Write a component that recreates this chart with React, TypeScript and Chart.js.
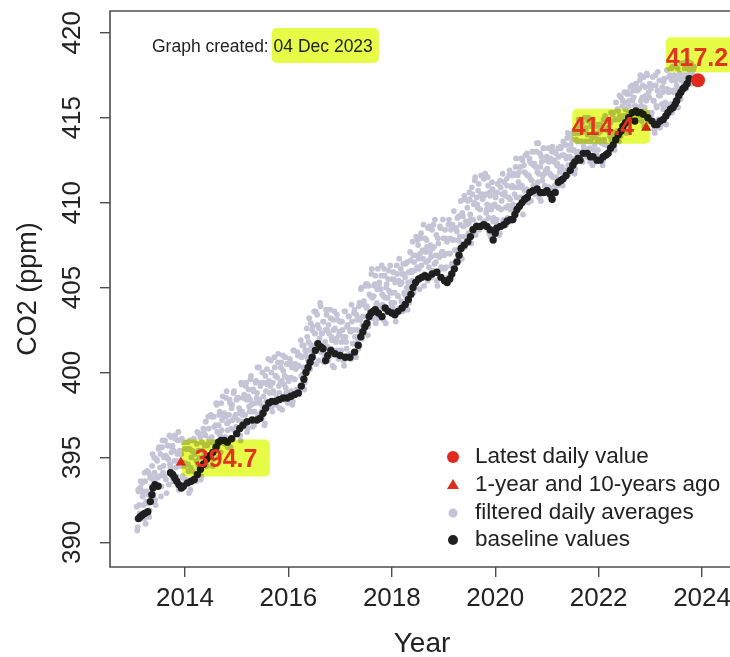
import { useEffect, useRef } from "react";
import { Chart, registerables } from "chart.js";

Chart.register(...registerables);

const FONT = '"Liberation Sans", Arial, Helvetica, sans-serif';

const X_TICKS = [2014, 2016, 2018, 2020, 2022, 2024];
const Y_TICKS = [390, 395, 400, 405, 410, 415, 420];
const X_MIN = 2012.55;
const X_MAX = 2024.54;
const Y_MIN = 388.55;
const Y_MAX = 421.28;

const X_TITLE = "Year";
const Y_TITLE = "CO2 (ppm)";
const CREATED_PREFIX = "Graph created: ";
const CREATED_DATE = "04 Dec 2023";
const LEGEND_LABELS = [
  "Latest daily value",
  "1-year and 10-years ago",
  "filtered daily averages",
  "baseline values",
];

// filtered daily averages: two readings per week (start and middle of each week)
const GREY_2013 = [392.1, 390.9, 393.0, 391.7, 393.6, 391.4, 392.7, 392.2, 394.1, 391.1, 393.0, 392.3, 394.1, 391.9, 393.9, 393.3, 395.2, 392.8, 394.1, 392.2, 394.9, 393.8, 395.5, 393.9, 395.2, 393.3, 396.0, 394.5, 393.9, 395.1, 392.9, 395.7, 394.9, 396.3, 394.4, 395.3, 395.7, 393.6, 394.8, 396.1, 393.9, 395.2, 396.5, 394.5, 393.4, 395.2, 393.9, 395.9, 394.5];
const GREY_2014 = [393.6, 394.6, 395.9, 394.2, 395.5, 393.1, 395.0, 394.2, 396.0, 395.3, 393.8, 394.8, 396.5, 395.4, 394.4, 396.2, 393.9, 395.4, 396.7, 395.1, 396.3, 394.5, 395.7, 397.4, 396.1, 395.1, 395.9, 397.4, 394.9, 396.8, 395.8, 398.2, 396.5, 395.0, 397.5, 396.3, 398.2, 397.2, 395.9, 397.6, 396.2, 398.5, 397.0, 395.6, 397.5, 398.2, 396.7, 398.1, 396.1, 398.9, 397.4, 396.8];
const GREY_2015 = [398.5, 397.2, 397.9, 396.3, 399.4, 397.7, 397.1, 398.7, 397.5, 399.4, 396.5, 398.6, 398.0, 398.4, 399.8, 397.7, 399.0, 396.9, 398.2, 399.5, 398.8, 397.5, 400.3, 398.2, 399.4, 397.3, 398.0, 399.4, 397.0, 398.9, 400.2, 398.1, 399.5, 398.8, 400.7, 398.0, 399.4, 398.8, 400.3, 399.8, 398.5, 400.6, 399.2, 397.9, 400.3, 399.5, 401.0, 398.4, 399.8, 399.1, 400.5, 398.2];
const GREY_2016 = [399.5, 400.8, 398.9, 400.3, 398.3, 401.3, 399.6, 400.2, 399.0, 401.0, 400.4, 398.9, 401.9, 400.9, 399.9, 401.6, 399.4, 401.0, 402.6, 400.8, 401.8, 400.4, 402.9, 401.6, 402.7, 401.5, 402.3, 403.6, 401.4, 402.8, 400.7, 402.0, 403.9, 402.3, 401.5, 403.0, 400.9, 402.5, 403.4, 401.5, 402.8, 401.0, 403.2, 402.1, 400.4, 402.5, 403.6, 401.3, 402.0, 403.1, 400.8, 402.4];
const GREY_2017 = [403.0, 401.8, 402.5, 400.7, 403.6, 402.1, 401.4, 402.8, 403.3, 401.1, 402.4, 404.0, 401.7, 402.5, 403.7, 401.7, 403.4, 402.5, 401.4, 404.1, 403.2, 405.0, 402.8, 404.0, 402.6, 405.1, 403.8, 405.2, 402.7, 404.6, 403.5, 405.8, 404.4, 403.4, 405.1, 405.7, 404.0, 404.9, 403.2, 405.3, 403.9, 405.7, 404.6, 403.1, 406.1, 404.4, 405.0, 403.7, 405.5, 404.8, 406.3, 404.1];
const GREY_2018 = [404.7, 405.9, 404.1, 405.3, 403.5, 405.8, 404.5, 406.7, 405.2, 404.2, 405.8, 406.4, 404.7, 405.6, 404.5, 406.5, 405.3, 404.1, 407.1, 406.0, 405.4, 406.9, 406.5, 405.0, 408.0, 406.2, 407.5, 406.1, 407.0, 408.2, 405.7, 406.7, 405.1, 407.9, 406.5, 407.4, 408.5, 406.2, 407.1, 406.8, 408.4, 406.0, 407.4, 409.0, 406.5, 405.4, 407.9, 406.9, 408.6, 406.1, 407.1, 409.0];
const GREY_2019 = [406.9, 408.4, 406.2, 407.7, 405.6, 409.0, 407.0, 408.4, 406.4, 407.8, 409.5, 407.2, 408.5, 408.3, 407.0, 409.2, 408.0, 410.1, 406.7, 409.2, 408.0, 410.2, 408.9, 407.8, 410.1, 408.8, 410.2, 409.0, 410.9, 408.5, 409.9, 411.3, 408.1, 410.3, 409.7, 411.1, 409.1, 410.4, 408.7, 410.2, 411.4, 408.9, 410.5, 409.6, 411.5, 409.1, 410.6, 408.0, 409.8, 410.8, 409.1, 409.9];
const GREY_2020 = [410.3, 409.0, 411.1, 409.7, 408.2, 410.9, 410.1, 411.7, 409.0, 410.6, 409.7, 411.4, 409.1, 410.3, 411.9, 409.6, 410.9, 411.6, 409.0, 410.5, 412.1, 410.3, 411.6, 411.2, 409.7, 412.1, 410.9, 412.5, 410.3, 411.8, 412.8, 410.8, 411.6, 410.0, 412.6, 411.4, 412.3, 413.0, 411.0, 412.3, 410.9, 413.0, 411.8, 413.5, 410.3, 412.1, 412.7, 411.3, 413.2, 411.7, 410.6, 412.5];
const GREY_2021 = [412.0, 413.2, 410.9, 412.6, 411.6, 413.3, 410.7, 412.5, 413.0, 411.5, 412.3, 413.2, 412.1, 413.3, 412.0, 412.8, 413.6, 411.4, 413.4, 412.6, 413.8, 412.2, 413.1, 414.0, 412.6, 413.7, 413.1, 414.1, 412.0, 413.7, 414.5, 413.0, 414.1, 412.5, 413.6, 414.7, 413.0, 414.2, 413.6, 414.4, 413.1, 414.8, 413.6, 412.4, 414.5, 413.8, 414.9, 413.1, 413.9, 412.4, 414.5, 413.1];
const GREY_2022 = [413.7, 414.6, 412.7, 414.3, 412.5, 413.7, 415.1, 413.4, 414.4, 413.0, 414.9, 413.9, 415.3, 414.1, 415.3, 413.3, 414.9, 415.9, 414.2, 415.4, 413.6, 415.1, 416.2, 414.5, 416.0, 415.1, 415.9, 414.9, 416.4, 414.5, 415.7, 416.4, 415.3, 416.9, 414.9, 416.2, 415.7, 417.0, 415.3, 416.7, 415.6, 417.2, 416.0, 414.8, 416.9, 417.4, 415.6, 416.3, 417.6, 414.8, 416.5, 417.0];
const GREY_2023 = [416.7, 415.3, 417.4, 416.0, 414.1, 416.9, 415.6, 417.7, 416.3, 414.4, 417.2, 415.8, 416.5, 417.1, 415.6, 416.6, 417.8, 415.2, 416.5, 417.5, 415.8, 417.2, 418.0, 416.5, 415.6, 417.2, 416.9, 417.9, 416.4, 417.6, 416.1, 417.2, 418.2, 416.9, 417.9, 417.4, 418.3, 417.1, 417.9, 417.8, 417.2, 418.1, 417.5, 417.9];

const GREY_MID_2013 = [390.7, 393.1, 392.2, 393.2, 391.5, 393.5, 393.0, 391.4, 393.6, 392.4, 394.2, 392.8, 391.5, 393.8, 392.7, 394.5, 393.7, 395.0, 392.5, 393.8, 394.8, 393.3, 395.6, 394.4, 392.7, 395.6, 394.1, 395.0, 396.0, 393.7, 395.0, 395.7, 393.4, 394.6, 396.2, 395.6, 393.8, 395.4, 396.3, 394.4, 394.8, 396.0, 393.1, 395.4, 394.5, 396.1, 393.8, 394.7, 395.5];
const GREY_MID_2014 = [393.7, 395.5, 394.6, 392.9, 396.0, 394.4, 395.4, 393.7, 396.1, 395.2, 393.6, 395.8, 394.6, 396.4, 395.0, 393.7, 395.9, 394.7, 396.5, 395.7, 397.1, 394.5, 395.8, 396.7, 395.1, 397.5, 396.2, 394.5, 397.4, 395.9, 396.9, 398.1, 395.6, 396.9, 397.7, 395.3, 396.6, 398.6, 397.5, 395.8, 397.4, 398.9, 396.6, 397.1, 398.4, 395.6, 397.9, 397.2, 398.8, 396.6, 397.5, 398.4];
const GREY_MID_2015 = [396.7, 398.5, 397.6, 396.0, 399.3, 397.5, 398.5, 396.8, 399.2, 398.4, 396.7, 399.0, 397.7, 399.6, 398.1, 396.8, 398.9, 397.7, 399.4, 398.5, 400.3, 397.2, 398.4, 399.2, 397.7, 400.0, 398.6, 396.9, 399.8, 398.3, 399.3, 400.8, 398.0, 399.2, 400.0, 397.7, 398.9, 400.9, 399.8, 398.1, 399.7, 401.1, 398.8, 399.4, 400.6, 397.8, 400.1, 399.3, 400.9, 398.8, 399.7, 400.5];
const GREY_MID_2016 = [398.8, 400.6, 399.7, 398.1, 401.3, 399.6, 400.5, 398.9, 401.2, 400.4, 398.7, 401.0, 399.8, 401.6, 400.3, 399.0, 401.3, 400.2, 402.1, 401.3, 403.2, 400.2, 401.6, 402.5, 401.1, 403.6, 402.3, 400.5, 403.4, 401.7, 402.6, 404.1, 401.2, 402.3, 403.0, 400.6, 401.8, 403.7, 402.5, 400.7, 402.3, 403.7, 401.4, 401.9, 403.1, 400.3, 402.6, 401.8, 403.4, 401.3, 402.2, 403.0];
const GREY_MID_2017 = [401.3, 403.0, 402.1, 400.4, 403.6, 401.8, 402.7, 401.0, 403.3, 402.5, 400.8, 403.0, 401.7, 403.5, 402.1, 400.9, 403.1, 402.0, 403.9, 403.1, 404.9, 402.0, 403.3, 404.2, 402.7, 405.2, 403.9, 402.2, 405.1, 403.6, 404.5, 406.1, 403.2, 404.5, 405.2, 402.9, 404.1, 406.1, 405.1, 403.3, 404.9, 406.3, 404.0, 404.5, 405.7, 402.9, 405.2, 404.4, 406.0, 403.8, 404.7, 405.5];
const GREY_MID_2018 = [403.8, 405.5, 404.7, 403.0, 406.3, 404.5, 405.4, 403.8, 406.1, 405.3, 403.6, 405.8, 404.6, 406.4, 405.0, 403.7, 405.9, 404.8, 406.6, 405.9, 407.7, 404.7, 406.0, 406.9, 405.4, 407.8, 406.7, 404.9, 407.9, 406.3, 407.2, 408.7, 405.8, 407.1, 407.8, 405.4, 406.6, 408.6, 407.5, 405.6, 407.3, 408.7, 406.4, 406.9, 408.1, 405.1, 407.6, 406.8, 408.5, 406.2, 407.1, 407.9];
const GREY_MID_2019 = [406.1, 407.9, 407.0, 405.4, 408.7, 407.0, 407.9, 406.3, 408.7, 407.8, 406.2, 408.5, 407.2, 409.1, 407.8, 406.6, 408.7, 407.6, 409.4, 408.6, 410.4, 407.4, 408.7, 409.7, 408.2, 410.6, 409.3, 407.6, 410.5, 409.0, 410.0, 411.5, 408.7, 409.9, 410.7, 408.4, 409.6, 411.6, 410.5, 408.8, 410.4, 411.7, 409.4, 409.9, 411.0, 408.2, 410.4, 409.6, 411.2, 408.9, 409.8, 410.5];
const GREY_MID_2020 = [408.8, 410.6, 409.7, 408.1, 411.3, 409.6, 410.5, 408.9, 411.2, 410.4, 408.7, 411.0, 409.8, 411.6, 410.2, 408.9, 411.0, 409.9, 411.7, 410.9, 412.6, 409.6, 410.9, 411.8, 410.3, 412.6, 411.0, 409.3, 412.2, 410.7, 411.7, 412.9, 410.4, 411.6, 412.4, 410.1, 411.3, 413.0, 412.2, 410.5, 412.1, 413.5, 411.2, 411.7, 412.9, 410.1, 412.4, 411.6, 413.2, 411.0, 411.9, 412.7];
const GREY_MID_2021 = [410.9, 412.4, 411.7, 410.3, 413.0, 411.5, 412.4, 411.0, 412.9, 412.2, 411.0, 412.7, 411.8, 413.2, 412.1, 411.0, 412.8, 411.9, 413.4, 412.7, 414.1, 411.7, 412.7, 413.4, 412.3, 414.1, 413.1, 411.7, 414.1, 412.9, 413.6, 414.9, 412.6, 413.6, 414.2, 412.4, 413.3, 415.0, 414.2, 412.7, 414.0, 415.0, 413.2, 413.6, 414.6, 412.2, 414.1, 413.4, 414.6, 412.8, 413.6, 414.1];
const GREY_MID_2022 = [412.7, 414.2, 413.5, 412.2, 414.9, 413.4, 414.3, 412.9, 414.8, 414.2, 412.9, 414.7, 413.7, 415.2, 414.1, 413.1, 414.9, 414.0, 415.5, 414.9, 416.3, 413.9, 415.0, 415.7, 414.6, 416.5, 415.5, 414.1, 416.5, 415.3, 416.0, 416.8, 415.0, 416.0, 416.6, 414.8, 415.7, 416.9, 416.6, 415.1, 416.7, 417.5, 415.7, 416.2, 417.4, 414.5, 416.8, 416.0, 417.5, 415.3, 416.2, 416.9];
const GREY_MID_2023 = [415.2, 416.9, 416.0, 414.3, 417.5, 415.7, 416.6, 414.9, 417.2, 416.3, 414.6, 416.8, 415.5, 417.3, 415.9, 414.6, 416.7, 415.6, 417.4, 416.6, 417.9, 415.3, 416.6, 417.5, 416.0, 418.0, 416.6, 415.6, 417.4, 416.6, 417.2, 418.2, 416.7, 417.5, 418.0, 416.7, 417.5, 418.3, 418.2, 417.5, 418.2, 417.0, 417.8, 418.0];

// [year, first week, week phase, values]
const GREY_SERIES: [number, number, number, number[]][] = [
  [2013, 3, 0.5, GREY_2013], [2013, 3, 1.0, GREY_MID_2013],
  [2014, 0, 0.5, GREY_2014], [2014, 0, 1.0, GREY_MID_2014],
  [2015, 0, 0.5, GREY_2015], [2015, 0, 1.0, GREY_MID_2015],
  [2016, 0, 0.5, GREY_2016], [2016, 0, 1.0, GREY_MID_2016],
  [2017, 0, 0.5, GREY_2017], [2017, 0, 1.0, GREY_MID_2017],
  [2018, 0, 0.5, GREY_2018], [2018, 0, 1.0, GREY_MID_2018],
  [2019, 0, 0.5, GREY_2019], [2019, 0, 1.0, GREY_MID_2019],
  [2020, 0, 0.5, GREY_2020], [2020, 0, 1.0, GREY_MID_2020],
  [2021, 0, 0.5, GREY_2021], [2021, 0, 1.0, GREY_MID_2021],
  [2022, 0, 0.5, GREY_2022], [2022, 0, 1.0, GREY_MID_2022],
  [2023, 0, 0.5, GREY_2023], [2023, 0, 1.0, GREY_MID_2023],
];

// baseline values [decimal year, ppm]
const BASELINE: [number, number][] = [
  [2013.10, 391.4], [2013.13, 391.5], [2013.17, 391.6], [2013.22, 391.7], [2013.28, 391.8], [2013.33, 392.4], [2013.36, 392.8], [2013.38, 393.2], [2013.42, 393.4], [2013.48, 393.3],
  [2013.72, 394.1], [2013.76, 394.0], [2013.80, 393.8], [2013.84, 393.6], [2013.88, 393.4], [2013.93, 393.2], [2013.97, 393.3], [2014.05, 393.5], [2014.12, 393.6], [2014.18, 393.7],
  [2014.24, 394.0], [2014.30, 394.3], [2014.36, 394.6], [2014.42, 394.9], [2014.48, 395.1], [2014.54, 395.3], [2014.60, 395.6], [2014.65, 395.9], [2014.70, 396.0], [2014.76, 396.0],
  [2014.82, 395.9], [2014.90, 396.1], [2015.00, 396.4], [2015.06, 396.7], [2015.12, 396.9], [2015.20, 397.1], [2015.30, 397.2], [2015.39, 397.2], [2015.45, 397.3], [2015.51, 397.6],
  [2015.56, 397.9], [2015.62, 398.2], [2015.68, 398.3], [2015.75, 398.3], [2015.82, 398.4], [2015.90, 398.5], [2015.98, 398.5], [2016.05, 398.6], [2016.12, 398.7], [2016.19, 398.8],
  [2016.25, 399.2], [2016.30, 399.6], [2016.34, 400.0], [2016.38, 400.3], [2016.42, 400.6], [2016.46, 400.9], [2016.52, 401.3], [2016.57, 401.7], [2016.63, 401.5], [2016.67, 401.4],
  [2016.72, 400.7], [2016.76, 401.0], [2016.82, 401.3], [2016.90, 401.1], [2017.00, 401.0], [2017.10, 400.9], [2017.19, 400.9], [2017.28, 401.2], [2017.35, 401.6], [2017.40, 402.1],
  [2017.44, 402.4], [2017.48, 402.7], [2017.52, 402.9], [2017.56, 403.3], [2017.60, 403.5], [2017.64, 403.6], [2017.68, 403.7], [2017.74, 403.5], [2017.81, 403.3], [2017.87, 403.8],
  [2017.93, 403.6], [2018.00, 403.5], [2018.06, 403.4], [2018.12, 403.6], [2018.20, 403.8], [2018.26, 404.0], [2018.32, 404.3], [2018.37, 404.6], [2018.41, 405.0], [2018.46, 405.3],
  [2018.52, 405.5], [2018.58, 405.6], [2018.64, 405.7], [2018.70, 405.6], [2018.78, 405.8], [2018.87, 405.9], [2018.95, 405.6], [2019.02, 405.4], [2019.07, 405.3], [2019.12, 405.5],
  [2019.16, 405.8], [2019.21, 406.1], [2019.26, 406.5], [2019.30, 406.9], [2019.34, 407.3], [2019.40, 407.5], [2019.47, 407.7], [2019.52, 408.0], [2019.57, 408.4], [2019.64, 408.6],
  [2019.71, 408.6], [2019.78, 408.7], [2019.84, 408.6], [2019.90, 408.4], [2019.96, 407.8], [2020.00, 408.2], [2020.03, 408.5], [2020.10, 408.6], [2020.17, 408.7], [2020.23, 408.9],
  [2020.29, 409.0], [2020.34, 409.0], [2020.38, 409.3], [2020.42, 409.6], [2020.47, 409.8], [2020.52, 410.0], [2020.57, 410.2], [2020.62, 410.3], [2020.67, 410.6], [2020.73, 410.7],
  [2020.81, 410.8], [2020.87, 410.6], [2020.94, 410.6], [2021.00, 410.7], [2021.06, 410.5], [2021.10, 410.2], [2021.16, 410.6], [2021.22, 411.2], [2021.27, 411.3], [2021.31, 411.4],
  [2021.37, 411.6], [2021.45, 411.9], [2021.50, 412.2], [2021.54, 412.4], [2021.60, 412.6], [2021.64, 412.5], [2021.70, 412.9], [2021.78, 412.9], [2021.84, 412.7], [2021.89, 412.7],
  [2021.97, 412.5], [2022.03, 412.5], [2022.09, 412.7], [2022.14, 412.8], [2022.18, 412.9], [2022.23, 413.2], [2022.28, 413.4], [2022.33, 413.7], [2022.38, 414.0], [2022.43, 414.2],
  [2022.47, 414.5], [2022.52, 414.7], [2022.58, 415.0], [2022.65, 415.3], [2022.70, 414.8], [2022.72, 415.4], [2022.76, 415.3], [2022.81, 415.3], [2022.86, 415.2], [2022.95, 415.0],
  [2023.03, 414.8], [2023.08, 414.6], [2023.13, 414.6], [2023.19, 414.8], [2023.25, 414.9], [2023.30, 415.1], [2023.34, 415.3], [2023.39, 415.5], [2023.44, 415.6], [2023.48, 415.8],
  [2023.51, 416.0], [2023.55, 416.3], [2023.59, 416.5], [2023.63, 416.7], [2023.67, 416.8], [2023.71, 417.0], [2023.75, 417.3],
];

const LATEST: [number, number][] = [[2023.92, 417.2]];
const AGO: [number, number][] = [[2013.92, 394.7], [2022.92, 414.4]];

const RED = "#e02a1e";
const RED_TEXT = "#e3331f";
const GREY = "#c4c4d6";
const BLACK = "#1f1f1f";
const HIGHLIGHT = "rgb(230,252,70)";
const INK = "#222222";
const FRAME = "#4d4d4d";

const greyPoints = GREY_SERIES.flatMap(([yr, w0, phase, vals]) =>
  vals.map((v, i) => ({ x: yr + ((w0 + i + phase) * 7) / 365.25, y: v }))
);
const toXY = (arr: [number, number][]) => arr.map(([x, y]) => ({ x, y }));

function hl(ctx: CanvasRenderingContext2D, x: number, y: number, w: number, h: number) {
  ctx.beginPath();
  ctx.roundRect(x, y, w, h, 5);
  ctx.fill();
}

const overlay = {
  id: "overlay",
  afterDatasetsDraw(chart: any) {
    const { ctx, chartArea: ca, scales } = chart;
    const xs = scales.x;
    const ys = scales.y;
    const p1x = xs.getPixelForValue(AGO[0][0]);
    const p1y = ys.getPixelForValue(AGO[0][1]);
    const p2x = xs.getPixelForValue(AGO[1][0]);
    const p2y = ys.getPixelForValue(AGO[1][1]);
    const p3x = xs.getPixelForValue(LATEST[0][0]);
    const p3y = ys.getPixelForValue(LATEST[0][1]);

    ctx.save();
    ctx.font = `17.5px ${FONT}`;
    const tx = ca.left + 42;
    const ty = ca.top + 36;
    const wPre = ctx.measureText(CREATED_PREFIX).width;
    const wDate = ctx.measureText(CREATED_DATE).width;

    ctx.globalCompositeOperation = "multiply";
    ctx.fillStyle = HIGHLIGHT;
    hl(ctx, tx + wPre - 2, ty - 19, wDate + 8, 35);
    hl(ctx, p1x + 1, p1y - 23, 88, 37);
    hl(ctx, p2x - 74, p2y - 19, 78, 35);
    hl(ctx, p3x - 32, p3y - 43, 80, 35);
    ctx.globalCompositeOperation = "source-over";

    ctx.fillStyle = INK;
    ctx.textBaseline = "middle";
    ctx.textAlign = "left";
    ctx.fillText(CREATED_PREFIX, tx, ty);
    ctx.fillText(CREATED_DATE, tx + wPre, ty);

    ctx.fillStyle = RED_TEXT;
    ctx.font = `bold 25px ${FONT}`;
    ctx.textAlign = "left";
    ctx.fillText(AGO[0][1].toFixed(1), p1x + 14, p1y - 2);
    ctx.textAlign = "right";
    ctx.fillText(AGO[1][1].toFixed(1), p2x - 12, p2y);
    ctx.textAlign = "center";
    ctx.fillText(LATEST[0][1].toFixed(1), p3x - 1, p3y - 21);
    ctx.restore();
  },
  afterDraw(chart: any) {
    const { ctx, chartArea: ca, scales } = chart;
    const xs = scales.x;
    const ys = scales.y;
    ctx.save();
    // frame (right side lies outside the picture)
    ctx.strokeStyle = FRAME;
    ctx.lineWidth = 1.6;
    ctx.beginPath();
    ctx.moveTo(ca.right + 10, ca.top);
    ctx.lineTo(ca.left, ca.top);
    ctx.lineTo(ca.left, ca.bottom);
    ctx.lineTo(ca.right + 10, ca.bottom);
    ctx.stroke();

    ctx.fillStyle = INK;
    ctx.font = `26px ${FONT}`;
    ctx.textAlign = "center";
    ctx.textBaseline = "middle";
    // x tick labels
    for (const v of X_TICKS) {
      ctx.fillText(String(v), xs.getPixelForValue(v), ca.bottom + 32);
    }
    // y tick labels (rotated like R)
    for (const v of Y_TICKS) {
      const py = ys.getPixelForValue(v);
      ctx.save();
      ctx.translate(ca.left - 37.5, py);
      ctx.rotate(-Math.PI / 2);
      ctx.fillText(String(v), 0, 0);
      ctx.restore();
    }

    // axis titles
    ctx.font = `27px ${FONT}`;
    ctx.save();
    ctx.translate(29, (ca.top + ca.bottom) / 2);
    ctx.rotate(-Math.PI / 2);
    ctx.fillText(Y_TITLE, 0, 0);
    ctx.restore();
    ctx.font = `28px ${FONT}`;
    ctx.fillText(X_TITLE, ca.left + 312, ca.bottom + 77);

    // legend
    const lx = ca.left + 343;
    const rows = [ca.bottom - 110, ca.bottom - 82, ca.bottom - 54, ca.bottom - 27];
    ctx.fillStyle = RED;
    ctx.beginPath();
    ctx.arc(lx, rows[0], 6, 0, Math.PI * 2);
    ctx.fill();
    ctx.beginPath();
    ctx.moveTo(lx, rows[1] - 6);
    ctx.lineTo(lx + 6, rows[1] + 4);
    ctx.lineTo(lx - 6, rows[1] + 4);
    ctx.closePath();
    ctx.fill();
    ctx.fillStyle = GREY;
    ctx.beginPath();
    ctx.arc(lx, rows[2], 4.5, 0, Math.PI * 2);
    ctx.fill();
    ctx.fillStyle = BLACK;
    ctx.beginPath();
    ctx.arc(lx, rows[3], 5, 0, Math.PI * 2);
    ctx.fill();

    ctx.fillStyle = INK;
    ctx.font = `22.5px ${FONT}`;
    ctx.textAlign = "left";
    LEGEND_LABELS.forEach((t, i) => ctx.fillText(t, lx + 22, rows[i]));
    ctx.restore();
  },
};

export default function App() {
  const ref = useRef<HTMLCanvasElement>(null);
  useEffect(() => {
    const chart = new Chart(ref.current!, {
      type: "scatter",
      data: {
        datasets: [
          {
            label: LEGEND_LABELS[0],
            data: toXY(LATEST),
            backgroundColor: RED,
            borderWidth: 0,
            pointRadius: 7,
            pointHoverRadius: 7,
            order: 0,
          },
          {
            label: LEGEND_LABELS[1],
            data: toXY(AGO),
            backgroundColor: RED,
            borderWidth: 0,
            pointStyle: "triangle",
            pointRadius: 6,
            pointHoverRadius: 6,
            order: 1,
          },
          {
            label: LEGEND_LABELS[3],
            data: toXY(BASELINE),
            backgroundColor: BLACK,
            borderWidth: 0,
            pointRadius: 3.7,
            pointHoverRadius: 3.7,
            order: 2,
          },
          {
            label: LEGEND_LABELS[2],
            data: greyPoints,
            backgroundColor: GREY,
            borderWidth: 0,
            pointRadius: 2.9,
            pointHoverRadius: 2.9,
            order: 3,
          },
        ],
      },
      options: {
        animation: false,
        responsive: false,
        devicePixelRatio: 1,
        events: [],
        layout: { autoPadding: false, padding: { top: 11, right: 0, left: 0, bottom: 0 } },
        plugins: { legend: { display: false }, tooltip: { enabled: false } },
        scales: {
          x: {
            type: "linear",
            min: X_MIN,
            max: X_MAX,
            afterBuildTicks: (s: any) => {
              s.ticks = X_TICKS.map((v) => ({ value: v }));
            },
            afterFit: (s: any) => {
              s.height = 90;
              s.paddingLeft = 0;
              s.paddingRight = 0;
            },
            border: { display: false },
            grid: {
              drawOnChartArea: false,
              drawTicks: true,
              tickLength: 10,
              color: FRAME,
              lineWidth: 1.4,
            },
            ticks: { display: false },
          },
          y: {
            type: "linear",
            min: Y_MIN,
            max: Y_MAX,
            afterBuildTicks: (s: any) => {
              s.ticks = Y_TICKS.map((v) => ({ value: v }));
            },
            afterFit: (s: any) => {
              s.width = 110;
              s.paddingTop = 0;
              s.paddingBottom = 0;
            },
            border: { display: false },
            grid: {
              drawOnChartArea: false,
              drawTicks: true,
              tickLength: 10,
              color: FRAME,
              lineWidth: 1.4,
            },
            ticks: { display: false },
          },
        },
      },
      plugins: [overlay],
    } as any);
    return () => chart.destroy();
  }, []);
  return (
    <div style={{ position: "fixed", left: 0, top: 0, width: 730, height: 657, background: "#fff" }}>
      <canvas ref={ref} width={730} height={657} style={{ width: 730, height: 657, display: "block" }} />
    </div>
  );
}
